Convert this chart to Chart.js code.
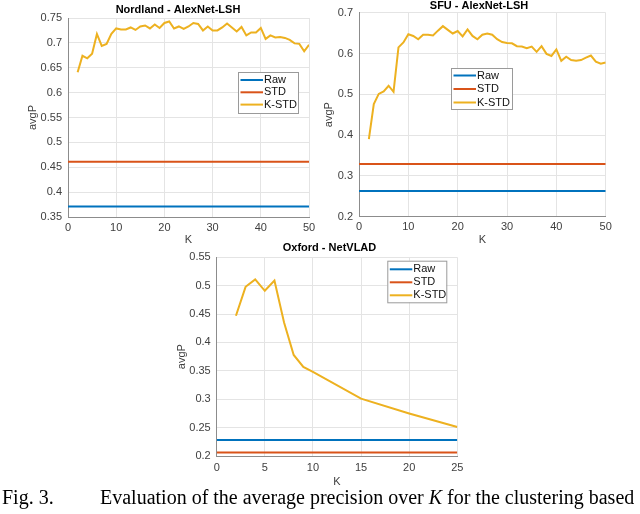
<!DOCTYPE html>
<html>
<head>
<meta charset="utf-8">
<script src="https://cdn.jsdelivr.net/npm/chart.js@4"></script>
<style>
body { margin: 0; width: 640px; height: 514px; overflow: hidden; background: #fff; position: relative; }
.box { position: absolute; }
#caption { position: absolute; left: 2px; top: 487px; font: 20px/20px "Liberation Serif", "Times New Roman", serif; white-space: nowrap; color: #000; }
#caption .fig { display: inline-block; width: 98px; }
</style>
</head>
<body>
<div class="box" style="left:0;top:0"><canvas id="nordland" width="320" height="250"></canvas></div>
<div class="box" style="left:320px;top:0"><canvas id="sfu" width="320" height="250"></canvas></div>
<div class="box" style="left:150px;top:238px"><canvas id="oxford" width="340" height="252"></canvas></div>
<div id="caption"><span class="fig">Fig. 3.</span>Evaluation of the average precision over <i>K</i> for the clustering based</div>
<script>
const seriesNames = ['Raw', 'STD', 'K-STD'];
const colors = ['#0072BD', '#D95319', '#EDB120'];

// Nordland - AlexNet-LSH
const nordlandK = [2,3,4,5,6,7,8,9,10,11,12,13,14,15,16,17,18,19,20,21,22,23,24,25,26,
  27,28,29,30,31,32,33,34,35,36,37,38,39,40,41,42,43,44,45,46,47,48,49,50];
const nordlandKSTD = [0.641,0.674,0.669,0.678,0.718,0.694,0.698,0.718,0.729,0.727,0.727,0.731,
  0.726,0.733,0.735,0.729,0.737,0.730,0.740,0.743,0.729,0.733,0.728,0.733,0.740,0.738,0.725,
  0.733,0.725,0.725,0.731,0.739,0.731,0.723,0.732,0.715,0.721,0.721,0.730,0.708,0.715,0.711,
  0.712,0.710,0.706,0.699,0.698,0.683,0.696];
const nordlandFlatK = [0, 50];
const nordlandRaw = [0.371, 0.371];
const nordlandSTD = [0.461, 0.461];
const nordlandXTicks = [0, 10, 20, 30, 40, 50];
const nordlandYTicks = [0.35, 0.4, 0.45, 0.5, 0.55, 0.6, 0.65, 0.7, 0.75];

// SFU - AlexNet-LSH
const sfuK = nordlandK;
const sfuKSTD = [0.390,0.476,0.501,0.507,0.521,0.506,0.615,0.627,0.647,0.643,0.635,0.646,0.646,
  0.644,0.656,0.667,0.658,0.649,0.655,0.642,0.659,0.643,0.635,0.646,0.649,0.646,0.635,0.628,
  0.626,0.625,0.618,0.617,0.613,0.617,0.604,0.618,0.599,0.594,0.610,0.582,0.592,0.584,0.582,
  0.584,0.590,0.595,0.580,0.575,0.578];
const sfuFlatK = [0, 50];
const sfuRaw = [0.263, 0.263];
const sfuSTD = [0.329, 0.329];
const sfuXTicks = [0, 10, 20, 30, 40, 50];
const sfuYTicks = [0.2, 0.3, 0.4, 0.5, 0.6, 0.7];

// Oxford - NetVLAD
const oxfordK = [2, 3, 4, 5, 6, 7, 8, 9, 10, 15, 20, 25];
const oxfordKSTD = [0.447, 0.498, 0.511, 0.491, 0.509, 0.435, 0.378, 0.357, 0.348, 0.301, 0.275, 0.251];
const oxfordFlatK = [0, 25];
const oxfordRaw = [0.228, 0.228];
const oxfordSTD = [0.206, 0.206];
const oxfordXTicks = [0, 5, 10, 15, 20, 25];
const oxfordYTicks = [0.2, 0.25, 0.3, 0.35, 0.4, 0.45, 0.5, 0.55];

const FONT = '"Liberation Sans", Arial, sans-serif';
Chart.defaults.font.family = FONT;
Chart.defaults.font.size = 11;

// title + matlab-like legend box drawn on the canvas
const decor = {
  id: 'decor',
  afterDraw(chart, args, opts) {
    const ctx = chart.ctx;
    ctx.save();
    ctx.font = 'bold 11px ' + FONT;
    ctx.fillStyle = '#000';
    ctx.textAlign = 'center';
    ctx.textBaseline = 'middle';
    ctx.fillText(opts.title, opts.titleX, opts.titleY);

    const L = opts.legend;
    ctx.fillStyle = '#fff';
    ctx.fillRect(L.x, L.y, L.w, L.h);
    ctx.strokeStyle = '#9a9a9a';
    ctx.lineWidth = 1;
    ctx.strokeRect(L.x + 0.5, L.y + 0.5, L.w, L.h);
    ctx.font = '11px ' + FONT;
    ctx.textAlign = 'left';
    chart.data.datasets.forEach((ds, i) => {
      const y = L.y + L.first + i * L.gap;
      ctx.strokeStyle = ds.borderColor;
      ctx.lineWidth = 2;
      ctx.beginPath();
      ctx.moveTo(L.x + 2.5, y);
      ctx.lineTo(L.x + 25, y);
      ctx.stroke();
      ctx.fillStyle = '#111';
      ctx.fillText(ds.label, L.x + 26, y);
    });
    ctx.restore();
  }
};

function pts(xs, ys) {
  return xs.map((x, i) => ({ x: x, y: ys[i] }));
}

function fmt(v) {
  return String(parseFloat(v.toFixed(2)));
}

function makeChart(id, c) {
  const sets = [
    pts(c.flatK, c.raw),
    pts(c.flatK, c.std),
    pts(c.k, c.kstd)
  ];
  return new Chart(document.getElementById(id), {
    type: 'line',
    data: {
      datasets: sets.map((d, i) => ({
        label: seriesNames[i],
        data: d,
        borderColor: colors[i],
        backgroundColor: colors[i],
        borderWidth: 2,
        pointRadius: 0,
        tension: 0,
        fill: false
      }))
    },
    options: {
      responsive: false,
      animation: false,
      layout: { padding: { top: c.top, right: c.right, left: 0, bottom: 0 } },
      plugins: {
        legend: { display: false },
        tooltip: { enabled: false },
        decor: c.decor
      },
      scales: {
        x: {
          type: 'linear',
          min: c.xTicks[0],
          max: c.xTicks[c.xTicks.length - 1],
          afterBuildTicks: s => { s.ticks = c.xTicks.map(v => ({ value: v })); },
          afterFit: s => { s.height = c.xH; },
          grid: { color: '#e4e4e4', drawTicks: false },
          border: { color: '#8c8c8c', width: 1 },
          ticks: { padding: c.xPad, color: '#404040', maxRotation: 0, autoSkip: false, callback: fmt },
          title: { display: true, text: 'K', color: '#404040', padding: { top: 0, bottom: c.kPad } }
        },
        y: {
          min: c.yTicks[0],
          max: c.yTicks[c.yTicks.length - 1],
          afterBuildTicks: s => { s.ticks = c.yTicks.map(v => ({ value: v })); },
          afterFit: s => { s.width = c.yW; },
          grid: { color: '#e4e4e4', drawTicks: false },
          border: { color: '#8c8c8c', width: 1 },
          ticks: { padding: 6, color: '#404040', autoSkip: false, callback: fmt },
          title: { display: true, text: 'avgP', color: '#404040', padding: { top: c.avgPad, bottom: 0 } }
        }
      }
    },
    plugins: [decor]
  });
}

makeChart('nordland', {
  k: nordlandK, kstd: nordlandKSTD, flatK: nordlandFlatK, raw: nordlandRaw, std: nordlandSTD,
  xTicks: nordlandXTicks, yTicks: nordlandYTicks,
  top: 18, right: 11, yW: 68, xH: 33, xPad: 4, kPad: 3.4, avgPad: 26.7,
  decor: { title: 'Nordland - AlexNet-LSH', titleX: 178, titleY: 10,
    legend: { x: 238, y: 72, w: 60, h: 41, first: 8, gap: 12.3 } }
});

makeChart('sfu', {
  k: sfuK, kstd: sfuKSTD, flatK: sfuFlatK, raw: sfuRaw, std: sfuSTD,
  xTicks: sfuXTicks, yTicks: sfuYTicks,
  top: 12.7, right: 34.3, yW: 39, xH: 33.3, xPad: 4, kPad: 3.4, avgPad: 2.7,
  decor: { title: 'SFU - AlexNet-LSH', titleX: 159, titleY: 6,
    legend: { x: 131, y: 68, w: 61, h: 41, first: 7.5, gap: 13.5 } }
});

makeChart('oxford', {
  k: oxfordK, kstd: oxfordKSTD, flatK: oxfordFlatK, raw: oxfordRaw, std: oxfordSTD,
  xTicks: oxfordXTicks, yTicks: oxfordYTicks,
  top: 19.3, right: 32.7, yW: 66.7, xH: 34, xPad: 5, kPad: 1, avgPad: 25,
  decor: { title: 'Oxford - NetVLAD', titleX: 179.5, titleY: 10.3,
    legend: { x: 237.3, y: 22.7, w: 59, h: 41.6, first: 8.6, gap: 13 } }
});
</script>
</body>
</html>
